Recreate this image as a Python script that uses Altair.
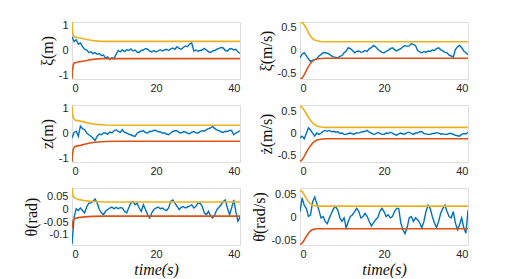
import altair as alt
import pandas as pd

# ---------------- data ----------------
TIME = [i * 0.5 for i in range(81)]  # 0 .. 40 s

XI = [0.54, 0.35, 0.42, 0.25, 0.3, 0.15, 0.05, 0.02, -0.08, -0.05,
      -0.12, -0.08, -0.15, -0.12, -0.2, -0.18, -0.3, -0.25, -0.35, -0.28,
      -0.33, -0.15, 0.0, -0.05, 0.02, -0.04, 0.03, 0.0, 0.06, -0.02,
      0.02, -0.06, -0.08, 0.0, 0.02, 0.08, 0.05, -0.03, -0.06, 0.0,
      -0.06, -0.02, 0.03, -0.02, 0.02, 0.05, 0.0, 0.06, 0.1, 0.05,
      0.15, 0.08, 0.05, 0.12, 0.18, 0.15, 0.25, 0.3, -0.02, 0.02,
      -0.03, 0.0, 0.02, 0.08, 0.02, -0.05, -0.08, -0.02, 0.0, 0.05,
      0.08, 0.12, 0.1, 0.0, -0.02, 0.06, 0.08, 0.02, 0.05, -0.05,
      -0.12]
XI_DOT = [-0.16, -0.08, -0.05, -0.11, -0.18, -0.24, -0.21, -0.2, -0.18, -0.12,
          -0.09, -0.05, -0.05, -0.06, -0.08, -0.12, -0.14, -0.15, -0.16, -0.13,
          -0.11, -0.05, -0.01, 0.06, 0.04, 0.0, -0.05, -0.02, -0.01, -0.04,
          -0.03, 0.0, -0.02, 0.04, 0.06, 0.11, 0.08, 0.03, -0.01, -0.04,
          -0.05, -0.02, 0.0, 0.04, 0.06, 0.02, -0.01, 0.02, 0.04, 0.08,
          0.11, 0.09, 0.1, 0.15, 0.13, 0.11, 0.0, -0.03, -0.05, -0.02,
          -0.04, -0.01, -0.02, 0.01, 0.0, 0.04, 0.06, 0.02, -0.01, -0.04,
          -0.05, -0.1, -0.12, -0.14, 0.02, 0.08, 0.11, 0.06, -0.01, -0.05,
          -0.09]
Z = [-0.17, 0.05, 0.1, -0.1, 0.3, 0.2, 0.16, 0.03, -0.04, -0.1,
     -0.17, -0.27, -0.1, -0.01, -0.04, 0.03, 0.03, -0.02, 0.07, 0.03,
     0.12, 0.16, 0.09, 0.05, 0.16, 0.05, 0.03, -0.02, -0.04, -0.08,
     -0.11, 0.02, 0.07, 0.1, 0.12, 0.05, 0.03, 0.1, 0.09, 0.14,
     0.13, 0.08, 0.07, 0.03, 0.03, -0.01, -0.04, 0.03, 0.09, 0.12,
     0.12, 0.05, 0.03, 0.08, 0.07, 0.02, 0.0, 0.06, 0.09, 0.04,
     0.03, 0.08, 0.12, 0.1, 0.16, 0.2, 0.23, 0.29, 0.2, 0.15,
     0.12, 0.08, 0.05, 0.1, 0.09, 0.13, 0.13, -0.04, 0.03, 0.07,
     0.12]
Z_DOT = [-0.1, -0.06, -0.12, 0.0, 0.13, 0.08, 0.01, -0.06, 0.01, -0.02,
         0.01, 0.05, 0.07, 0.05, 0.07, 0.04, 0.05, 0.03, 0.04, 0.0,
         0.01, -0.02, -0.02, 0.0, 0.01, -0.01, -0.01, 0.02, 0.01, 0.03,
         0.04, 0.05, 0.07, 0.03, 0.01, -0.02, -0.01, 0.02, 0.01, -0.02,
         -0.02, 0.01, 0.0, 0.03, 0.01, -0.02, -0.04, -0.01, 0.01, -0.01,
         -0.01, 0.02, 0.03, 0.0, -0.02, 0.01, 0.01, 0.04, 0.04, 0.0,
         -0.01, -0.02, -0.02, 0.0, 0.0, 0.02, 0.01, -0.01, -0.01, -0.02,
         -0.02, 0.0, 0.0, -0.02, -0.04, -0.05, -0.06, -0.02, 0.0, -0.01,
         0.03]
THETA = [-0.137, -0.03, 0.003, -0.004, 0.006, -0.004, -0.013, 0.01, 0.025, 0.026,
         0.032, 0.042, 0.026, 0.0, -0.013, -0.02, -0.007, 0.0, 0.006, 0.01,
         0.003, 0.009, 0.003, 0.008, 0.006, -0.007, -0.013, 0.006, 0.025, 0.032,
         0.019, 0.025, 0.006, -0.007, 0.019, 0.0, -0.02, -0.033, -0.013, 0.0,
         0.006, 0.01, 0.003, 0.006, 0.0, -0.004, 0.006, 0.032, 0.038, 0.025,
         0.013, 0.0, 0.009, 0.012, 0.006, 0.01, 0.013, 0.019, 0.006, 0.013,
         0.025, 0.025, 0.013, -0.013, -0.02, -0.007, -0.026, -0.033, -0.02, 0.0,
         0.009, 0.019, 0.032, 0.038, 0.006, -0.02, 0.006, 0.038, -0.007, -0.046,
         -0.03]
THETA_DOT = [0.013, 0.043, 0.027, 0.02, 0.002, 0.005, 0.034, 0.045, 0.031, 0.016,
             -0.001, 0.002, -0.009, -0.014, -0.001, 0.009, 0.02, 0.024, 0.016, -0.001,
             -0.009, -0.001, -0.023, -0.009, 0.002, 0.006, 0.013, 0.02, 0.013, -0.001,
             0.002, 0.009, 0.002, -0.009, -0.019, -0.012, -0.005, -0.001, 0.013, 0.02,
             0.013, 0.002, 0.006, -0.001, 0.002, 0.013, 0.02, 0.02, -0.012, -0.027,
             -0.036, -0.023, -0.001, 0.002, -0.009, -0.001, -0.005, -0.012, -0.023, -0.009,
             0.013, 0.027, 0.02, 0.002, -0.012, -0.023, -0.009, 0.009, 0.02, 0.027,
             0.013, 0.002, -0.001, 0.013, -0.012, -0.027, -0.016, -0.001, -0.023, -0.035,
             0.016]

# envelopes (upper = yellow, lower = orange)
XI_ENV_T = [0, 0.1, 0.3, 0.5, 1.5, 2.5, 3.5, 4.5, 5.5, 7, 40]
XI_UP = [1.12, 0.8, 0.6, 0.54, 0.5, 0.47, 0.43, 0.4, 0.38, 0.36, 0.36]
XI_LO = [-1.12, -0.8, -0.58, -0.49, -0.45, -0.42, -0.39, -0.36, -0.34, -0.32, -0.32]

XID_ENV_T = [0, 0.5, 1, 1.5, 2, 2.5, 3, 3.5, 4, 5, 6, 40]
XID_UP = [0.62, 0.61, 0.56, 0.48, 0.39, 0.31, 0.26, 0.23, 0.21, 0.195, 0.19, 0.19]
XID_LO = [-0.62, -0.6, -0.53, -0.44, -0.35, -0.28, -0.23, -0.2, -0.185, -0.175, -0.17, -0.17]

Z_ENV_T = [0, 0.1, 0.3, 0.6, 1, 2, 3, 4, 5, 6, 8, 10, 40]
Z_UP = [1.12, 0.85, 0.65, 0.56, 0.53, 0.5, 0.46, 0.42, 0.39, 0.37, 0.35, 0.34, 0.34]
Z_LO = [-1.12, -0.85, -0.62, -0.52, -0.49, -0.46, -0.42, -0.38, -0.35, -0.33, -0.31, -0.3, -0.3]

ZD_ENV_T = [0, 0.5, 1, 1.5, 2, 2.5, 3, 3.5, 4, 5, 6, 40]
ZD_UP = [0.62, 0.6, 0.53, 0.45, 0.37, 0.3, 0.24, 0.2, 0.17, 0.15, 0.14, 0.14]
ZD_LO = [-0.64, -0.6, -0.52, -0.43, -0.35, -0.28, -0.22, -0.18, -0.15, -0.13, -0.12, -0.12]

TH_ENV_T = [0, 0.1, 0.3, 0.7, 1.5, 3, 5, 8, 40]
TH_UP = [0.085, 0.065, 0.052, 0.045, 0.04, 0.035, 0.032, 0.03, 0.03]
TH_LO = [-0.075, -0.055, -0.042, -0.035, -0.032, -0.029, -0.027, -0.026, -0.026]

THD_ENV_T = [0, 0.5, 1, 1.5, 2, 2.5, 3, 4, 40]
THD_UP = [0.06, 0.057, 0.05, 0.042, 0.035, 0.03, 0.027, 0.025, 0.025]
THD_LO = [-0.06, -0.057, -0.05, -0.042, -0.035, -0.03, -0.027, -0.025, -0.025]

X_TICKS = [0, 20, 40]

BLUE = "#0072BD"
ORANGE = "#D95319"
YELLOW = "#EDB120"

W, H = 168, 57

AXIS_STYLE = dict(
    labelFont="Liberation Sans", labelFontSize=11, labelColor="#262626",
    titleFont="Liberation Serif", titleFontSize=16, titleFontWeight="normal",
    titleColor="#111111", domain=False, ticks=False, grid=False,
)


def panel(blue, env_t, up, lo, domain, yticks, ytitle, xtitle):
    dfb = pd.DataFrame({"t": TIME, "v": blue})
    dfe = pd.DataFrame({
        "t": env_t + env_t,
        "v": up + lo,
        "s": ["u"] * len(env_t) + ["l"] * len(env_t),
    })
    xaxis = alt.Axis(values=X_TICKS, labelPadding=3, titlePadding=2,
                     titleFontStyle="italic", **AXIS_STYLE)
    if xtitle:
        xenc = alt.X("t:Q", scale=alt.Scale(domain=[0, 40], nice=False),
                     axis=xaxis, title=xtitle)
    else:
        xenc = alt.X("t:Q", scale=alt.Scale(domain=[0, 40], nice=False),
                     axis=xaxis, title=None)
    yenc = alt.Y("v:Q", scale=alt.Scale(domain=domain, nice=False, zero=False),
                 axis=alt.Axis(values=yticks, labelExpr="'' + datum.value",
                               labelPadding=4, titlePadding=3, **AXIS_STYLE),
                 title=ytitle)
    line_b = alt.Chart(dfb).mark_line(color=BLUE, strokeWidth=1.4, clip=True).encode(
        x=xenc, y=yenc)
    line_e = alt.Chart(dfe).mark_line(strokeWidth=1.6, clip=True).encode(
        x=xenc, y=yenc,
        color=alt.Color("s:N", scale=alt.Scale(domain=["u", "l"], range=[YELLOW, ORANGE]),
                        legend=None),
        detail="s:N")
    return alt.layer(line_b, line_e).properties(width=W, height=H)


p1 = panel(XI, XI_ENV_T, XI_UP, XI_LO, [-1.12, 1.12], [-1, 0, 1], "ξ(m)", None)
p2 = panel(XI_DOT, XID_ENV_T, XID_UP, XID_LO, [-0.62, 0.62], [-0.5, 0, 0.5], "ξ̇(m/s)", None)
p3 = panel(Z, Z_ENV_T, Z_UP, Z_LO, [-1.12, 1.14], [-1, 0, 1], "z(m)", None)
p4 = panel(Z_DOT, ZD_ENV_T, ZD_UP, ZD_LO, [-0.65, 0.65], [-0.5, 0, 0.5], "ż(m/s)", None)
p5 = panel(THETA, TH_ENV_T, TH_UP, TH_LO, [-0.14, 0.085], [-0.1, -0.05, 0, 0.05], "θ(rad)", "time(s)")
p6 = panel(THETA_DOT, THD_ENV_T, THD_UP, THD_LO, [-0.061, 0.065], [-0.05, 0, 0.05], "θ̇(rad/s)", "time(s)")

chart = alt.concat(
    p1, p2, p3, p4, p5, p6, columns=2, bounds="flush",
    spacing={"row": 26, "column": 60},
).properties(
    padding={"left": 15, "top": 10, "right": 5, "bottom": 0}
).configure_view(
    stroke="#cfcfcf", strokeWidth=1
).configure(background="white")

chart.save("out.html", embed_options={"renderer": "svg", "actions": False})
